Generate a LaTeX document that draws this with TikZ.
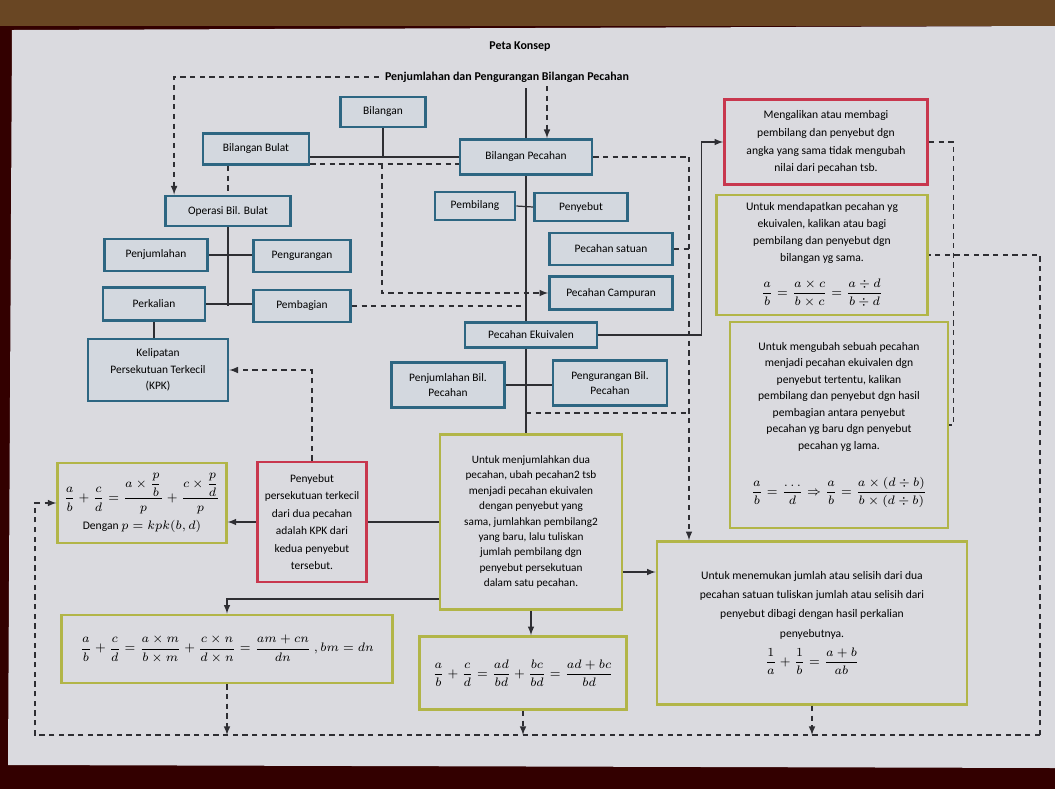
\documentclass[tikz,border=0pt]{standalone}
\usepackage{amsmath}
\usepackage{fontspec}
\setmainfont{Carlito}
\usepackage{tikz}
\definecolor{kertas}{HTML}{DADADF}
\definecolor{isikotak}{HTML}{D3D8DF}
\definecolor{biru}{HTML}{2D6682}
\definecolor{merah}{HTML}{C8374E}
\definecolor{hijau}{HTML}{B2B548}
\definecolor{garis}{HTML}{2E2E33}
\newcommand{\hurufkotak}{\fontsize{6.5}{8}\selectfont}
\newcommand{\hurufcatatan}{\fontsize{6.6}{10}\selectfont}
\tikzstyle{konsep} = [draw=biru, fill=isikotak, line width=1.6pt, rectangle, align=center, font=\hurufkotak]
\tikzstyle{catatan} = [draw=merah, fill=kertas, line width=1.6pt, rectangle, align=center, font=\hurufcatatan]
\tikzstyle{rumus} = [draw=hijau, fill=kertas, line width=1.6pt, rectangle, align=center, font=\hurufcatatan]
\tikzstyle{hubung} = [draw=garis, line width=0.7pt]
\tikzstyle{putus} = [hubung, dash pattern=on 3pt off 2.5pt]
\begin{document}
\begin{tikzpicture}[x=0.02cm, y=-0.02cm, >=latex]
	\useasboundingbox (0,0) rectangle (1055,789);
	% latar foto
	\fill[black!80!red] (0,0) rectangle (1055,789);
	\fill[brown!55!black] (0,0) rectangle (1055,26);
	\fill[kertas] (12,30) -- (1055,26) -- (1055,768) -- (8,765) -- cycle;

	% judul
	\node[font=\bfseries\fontsize{6.8}{8}\selectfont] (judul) at (520,47) {Peta Konsep};
	\node[font=\bfseries\fontsize{6.8}{8}\selectfont] (subjudul) at (507,77) {Penjumlahan dan Pengurangan Bilangan Pecahan};

	% konsep
	\node[konsep, minimum width=1.7cm, minimum height=0.6cm] (bil) at (383,112) {Bilangan};
	\node[konsep, minimum width=2.12cm, minimum height=0.62cm] (bulat) at (256,149) {Bilangan Bulat};
	\node[konsep, minimum width=2.64cm, minimum height=0.7cm] (pecahan) at (526,157) {Bilangan Pecahan};
	\node[konsep, minimum width=2.5cm, minimum height=0.6cm] (operasi) at (228,211) {Operasi Bil. Bulat};
	\node[konsep, minimum width=2.06cm, minimum height=0.64cm] (jumlah) at (156,255) {Penjumlahan};
	\node[konsep, minimum width=1.94cm, minimum height=0.64cm] (kurang) at (302,256) {Pengurangan};
	\node[konsep, minimum width=2.04cm, minimum height=0.66cm] (kali) at (154,304) {Perkalian};
	\node[konsep, minimum width=1.94cm, minimum height=0.64cm] (bagi) at (302,306) {Pembagian};
	\node[konsep, minimum width=2.8cm, minimum height=1.24cm, font=\fontsize{6.5}{9.4}\selectfont] (kpk) at (158,370) {Kelipatan\\Persekutuan Terkecil\\(KPK)};
	\node[konsep, minimum width=1.6cm, minimum height=0.56cm] (pembilang) at (475,206) {Pembilang};
	\node[konsep, minimum width=1.86cm, minimum height=0.56cm] (penyebut) at (581,207) {Penyebut};
	\node[konsep, minimum width=2.46cm, minimum height=0.64cm] (satuan) at (611,249) {Pecahan satuan};
	\node[konsep, minimum width=2.46cm, minimum height=0.66cm] (campuran) at (611,293) {Pecahan Campuran};
	\node[konsep, minimum width=2.64cm, minimum height=0.5cm] (ekuivalen) at (531,335) {Pecahan Ekuivalen};
	\node[konsep, minimum width=2.26cm, minimum height=0.9cm, font=\fontsize{6.5}{9}\selectfont] (jumlahpec) at (448,385) {Penjumlahan Bil.\\Pecahan};
	\node[konsep, minimum width=2.28cm, minimum height=0.9cm, font=\fontsize{6.5}{9}\selectfont] (kurangpec) at (610,383) {Pengurangan Bil.\\Pecahan};

	% catatan dan rumus
	\node[catatan, minimum width=4.06cm, minimum height=1.7cm, font=\fontsize{6.6}{10.2}\selectfont] (kalikan) at (826,142) {Mengalikan atau membagi\\pembilang dan penyebut dgn\\angka yang sama tidak mengubah\\nilai dari pecahan tsb.};
	\node[rumus, minimum width=4.22cm, minimum height=2.4cm, font=\fontsize{6.6}{9.5}\selectfont] (mendapatkan) at (822,255) {Untuk mendapatkan pecahan yg\\ekuivalen, kalikan atau bagi\\pembilang dan penyebut dgn\\bilangan yg sama.\\[8pt]
		$\dfrac{a}{b}=\dfrac{a\times c}{b\times c}=\dfrac{a\div d}{b\div d}$};
	\node[rumus, minimum width=4.36cm, minimum height=4.12cm, font=\fontsize{6.6}{9.4}\selectfont] (mengubah) at (839,425) {Untuk mengubah sebuah pecahan\\menjadi pecahan ekuivalen dgn\\penyebut tertentu, kalikan\\pembilang dan penyebut dgn hasil\\pembagian antara penyebut\\pecahan yg baru dgn penyebut\\pecahan yg lama.\\[14pt]
		$\dfrac{a}{b}=\dfrac{\ldots}{d}\Rightarrow\dfrac{a}{b}=\dfrac{a\times(d\div b)}{b\times(d\div b)}$};
	\node[rumus, minimum width=3.64cm, minimum height=3.5cm, font=\fontsize{6.4}{8.8}\selectfont] (menjumlahkan) at (531,522) {Untuk menjumlahkan dua\\pecahan, ubah pecahan2 tsb\\menjadi pecahan ekuivalen\\dengan penyebut yang\\sama, jumlahkan pembilang2\\yang baru, lalu tuliskan\\jumlah pembilang dgn\\penyebut persekutuan\\dalam satu pecahan.};
	\node[catatan, minimum width=2.18cm, minimum height=2.4cm, font=\fontsize{6.5}{10}\selectfont] (penyebutkpk) at (312,522) {Penyebut\\persekutuan terkecil\\dari dua pecahan\\adalah KPK dari\\kedua penyebut\\tersebut.};
	\node[rumus, minimum width=3.2cm, minimum height=1.6cm, font=\fontsize{6.6}{10}\selectfont] (rumuskpk) at (142,503) {$\dfrac{a}{b}+\dfrac{c}{d}=\dfrac{a\times\dfrac{p}{b}}{p}+\dfrac{c\times\dfrac{p}{d}}{p}$\\[3pt] Dengan $p=kpk(b,d)$};
	\node[rumus, minimum width=6.62cm, minimum height=1.36cm, font=\fontsize{7}{10}\selectfont] (rumusmn) at (227,649) {$\dfrac{a}{b}+\dfrac{c}{d}=\dfrac{a\times m}{b\times m}+\dfrac{c\times n}{d\times n}=\dfrac{am+cn}{dn}\ ,bm=dn$};
	\node[rumus, minimum width=4.14cm, minimum height=1.46cm, font=\fontsize{7}{10}\selectfont] (rumusad) at (523,673) {$\dfrac{a}{b}+\dfrac{c}{d}=\dfrac{ad}{bd}+\dfrac{bc}{bd}=\dfrac{ad+bc}{bd}$};
	\node[rumus, minimum width=6.2cm, minimum height=3.26cm, font=\fontsize{6.6}{11}\selectfont] (menemukan) at (812,623) {Untuk menemukan jumlah atau selisih dari dua\\pecahan satuan tuliskan jumlah atau selisih dari\\penyebut dibagi dengan hasil perkalian\\penyebutnya.\\[4pt]
		$\dfrac{1}{a}+\dfrac{1}{b}=\dfrac{a+b}{ab}$};

	% titik bantu
	\coordinate (simpang) at (382,164);
	\coordinate (atas) at (547,86);
	\coordinate (jalur) at (689,157);
	\coordinate (cabang) at (526,413);
	\coordinate (kiribawah) at (35,735);
	\coordinate (kananbawah) at (1040,735);

	% hubungan konsep
	\draw[hubung] (subjudul.south -| pecahan.north) -- (pecahan.north);
	\draw[putus,->] (atas) -- (atas |- pecahan.north);
	\draw[putus,->] (subjudul.west) -| ([xshift=0.2cm]operasi.north west);
	\draw[hubung] (bil) -- (bil |- pecahan.west);
	\draw[hubung] (bulat.east |- pecahan.west) -- (pecahan.west);
	\draw[putus] (bulat.east |- simpang) -- (simpang -| pecahan.west);
	\draw[putus,->] (simpang) |- (campuran.west);
	\draw[putus] (operasi.north |- bulat.south) -- (operasi.north);
	\draw[hubung] (operasi.south) -- (operasi.south |- bagi.west);
	\draw[hubung] (jumlah.east) -- (jumlah.east -| kurang.west);
	\draw[hubung] (kali.east) -- (kali.east -| bagi.west);
	\draw[hubung] (kali.south) -- (kali.south |- kpk.north);
	\draw[putus] (bagi.east) -- (bagi.east -| pecahan.south);
	\draw[hubung] (pecahan.south) -- (pecahan.south |- ekuivalen.north);
	\draw[hubung] (pembilang.east) -- (penyebut.west);
	\draw[putus] (pecahan.east) -- (jalur);
	\draw[putus] (satuan.east) -- (satuan.east -| jalur);
	\draw[putus,->] (jalur) -- (jalur |- menemukan.north);
	\draw[hubung,->] (ekuivalen.east) -| ([xshift=-0.44cm]kalikan.west) -- (kalikan.west);
	\draw[hubung] (ekuivalen.south -| pecahan.south) -- (cabang) -- (cabang |- menjumlahkan.north);
	\draw[hubung] (jumlahpec.east) -- (jumlahpec.east -| kurangpec.west);
	\draw[putus] (cabang) -- (cabang -| jalur);

	% kotak kanan
	\draw[putus] (kalikan.east) -| ([xshift=0.08cm]mengubah.east) -- (mengubah.east);
	\draw[putus] (kananbawah) |- (mendapatkan.east);

	% hubungan catatan
	\draw[hubung] (menjumlahkan.west |- penyebutkpk.east) -- (penyebutkpk.east);
	\draw[hubung,->] (penyebutkpk.west) -- (penyebutkpk.west -| rumuskpk.east);
	\draw[putus,->] (penyebutkpk.north) |- (kpk.east);
	\draw[hubung,->] ([yshift=0.24cm]menjumlahkan.south west) -| (rumusmn.north);
	\draw[hubung,->] (menjumlahkan.south) -- (menjumlahkan.south |- rumusad.north);
	\draw[hubung,->] ([yshift=-1cm]menjumlahkan.east) -- ([yshift=-1cm]menjumlahkan.east -| menemukan.west);

	% jalur bawah
	\foreach \kotak in {rumusmn, rumusad, menemukan}
		\draw[putus,->] (\kotak.south) -- (\kotak.south |- kiribawah);
	\draw[putus,->] (kananbawah) -- (kiribawah) |- (rumuskpk.west);
\end{tikzpicture}
\end{document}
